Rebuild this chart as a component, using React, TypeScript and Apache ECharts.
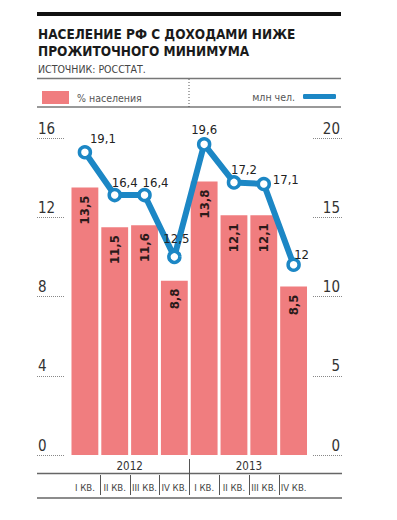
import React, { useEffect, useRef } from "react";
import * as echarts from "echarts";

const quarters = ["I КВ.", "II КВ.", "III КВ.", "IV КВ.", "I КВ.", "II КВ.", "III КВ.", "IV КВ."];
const years = ["2012", "2013"];
const pctPopulation = [13.5, 11.5, 11.6, 8.8, 13.8, 12.1, 12.1, 8.5];
const mlnPeople = [19.1, 16.4, 16.4, 12.5, 19.6, 17.2, 17.1, 12];
const leftTicks = { min: 0, max: 16, interval: 4 };
const rightTicks = { min: 0, max: 20, interval: 5 };

// label nudges for the line values (layout only)
const lineLabelOffsets: [number, number][] = [
  [18, 5], [10, 6], [11, 6], [2, 0], [0, 4], [10, 6], [22, 14], [8, 8],
];

const FONT = "'Liberation Sans Narrow', 'DejaVu Sans Condensed', 'Roboto Condensed', sans-serif";
const RED = "#f07d7f";
const BLUE = "#1c87c5";
const comma = (v: number) => String(v).replace(".", ",");

export default function App() {
  const ref = useRef<HTMLDivElement>(null);
  useEffect(() => {
    if (!ref.current) return;
    const chart = echarts.init(ref.current, null, { renderer: "svg" });
    const option: any = {
      animation: false,
      backgroundColor: "#fff",
      textStyle: { fontFamily: FONT },
      title: {
        text: "НАСЕЛЕНИЕ РФ С ДОХОДАМИ НИЖЕ\nПРОЖИТОЧНОГО МИНИМУМА",
        subtext: "ИСТОЧНИК: РОССТАТ.",
        left: 33,
        top: 20,
        itemGap: 4,
        textStyle: { fontFamily: FONT, fontSize: 13.5, fontWeight: "bold", color: "#1a1a1a", lineHeight: 17 },
        subtextStyle: { fontFamily: FONT, fontSize: 10.5, color: "#444" },
      },
      legend: [
        {
          data: ["% населения"],
          left: 37,
          top: 86,
          itemWidth: 27,
          itemHeight: 13,
          itemGap: 5,
          icon: "rect",
          textStyle: { fontFamily: FONT, fontSize: 10.5, color: "#555", padding: [0, 0, 0, 3] },
        },
        {
          data: ["млн чел."],
          right: 56,
          top: 86,
          align: "right",
          icon: "roundRect",
          itemWidth: 33,
          itemHeight: 5,
          itemStyle: { color: BLUE, borderWidth: 0 },
          textStyle: { fontFamily: FONT, fontSize: 10.5, color: "#555", padding: [0, 3, 0, 0] },
        },
      ],
      grid: { left: 70, right: 88.5, top: 138, bottom: 65 },
      xAxis: [
        {
          type: "category",
          data: quarters,
          position: "bottom",
          axisLine: { show: false },
          axisTick: { show: false },
          axisLabel: { margin: 27, fontSize: 9.5, color: "#444", fontFamily: FONT, interval: 0 },
        },
        {
          type: "category",
          data: years,
          position: "bottom",
          axisLine: { show: false },
          axisTick: { show: false },
          axisLabel: { margin: 5, fontSize: 11.5, color: "#333", fontFamily: FONT },
        },
      ],
      yAxis: [
        {
          type: "value",
          ...leftTicks,
          position: "left",
          offset: 6,
          splitLine: { show: false },
          axisLine: { show: false },
          axisTick: { show: true, length: 27, lineStyle: { color: "#888", type: "dotted", width: 1 } },
          axisLabel: {
            margin: 26,
            align: "left",
            verticalAlign: "bottom",
            padding: [0, 0, 2, 0],
            fontSize: 15,
            color: "#333",
            fontFamily: FONT,
          },
        },
        {
          type: "value",
          ...rightTicks,
          position: "right",
          offset: 4.5,
          splitLine: { show: false },
          axisLine: { show: false },
          axisTick: { show: true, length: 29, lineStyle: { color: "#888", type: "dotted", width: 1 } },
          axisLabel: {
            margin: 27,
            align: "right",
            verticalAlign: "bottom",
            padding: [0, 0, 2, 0],
            fontSize: 15,
            color: "#333",
            fontFamily: FONT,
          },
        },
      ],
      series: [
        {
          name: "% населения",
          type: "bar",
          xAxisIndex: 0,
          yAxisIndex: 0,
          data: pctPopulation,
          barCategoryGap: "10%",
          itemStyle: { color: RED },
          label: {
            show: true,
            position: "insideTop",
            distance: 8,
            rotate: 90,
            align: "right",
            verticalAlign: "middle",
            fontSize: 13,
            fontWeight: "bold",
            color: "#2a1a1a",
            fontFamily: FONT,
            formatter: (p: any) => comma(p.value),
          },
        },
        {
          name: "млн чел.",
          type: "line",
          xAxisIndex: 0,
          yAxisIndex: 1,
          data: mlnPeople.map((v, i) => ({ value: v, label: { offset: lineLabelOffsets[i] } })),
          symbol: "circle",
          symbolSize: 11,
          lineStyle: { color: BLUE, width: 6 },
          itemStyle: { color: "#fff", borderColor: BLUE, borderWidth: 3.5 },
          label: {
            show: true,
            position: "top",
            fontSize: 13,
            color: "#222",
            fontFamily: FONT,
            formatter: (p: any) => comma(p.value),
          },
          z: 5,
        },
      ],
    };
    chart.setOption(option);

    const px = (i: number) => chart.convertToPixel({ xAxisIndex: 0 }, i) as number;
    const graphic: any[] = [
      { type: "rect", shape: { x: 37, y: 12, width: 304, height: 4 }, style: { fill: "#111" } },
      { type: "line", shape: { x1: 37, y1: 78.5, x2: 341, y2: 78.5 }, style: { stroke: "#777", lineWidth: 1.5 } },
      { type: "line", shape: { x1: 37, y1: 107, x2: 341, y2: 107 }, style: { stroke: "#777", lineWidth: 1.5 } },
      { type: "line", shape: { x1: 189, y1: 79, x2: 189, y2: 107 }, style: { stroke: "#555", lineWidth: 1, lineDash: [1, 2] } },
      { type: "line", shape: { x1: 37, y1: 473.5, x2: 342, y2: 473.5 }, style: { stroke: "#666", lineWidth: 1.5 } },
      { type: "line", shape: { x1: 37, y1: 498, x2: 342, y2: 498 }, style: { stroke: "#666", lineWidth: 1.5 } },
    ];
    for (let i = 1; i < quarters.length; i++) {
      const x = Math.round((px(i - 1) + px(i)) / 2) + 0.5;
      const isYear = i === 4;
      graphic.push({
        type: "line",
        shape: { x1: x, y1: isYear ? 459 : 475, x2: x, y2: 495 },
        style: { stroke: "#555", lineWidth: 1 },
      });
    }
    chart.setOption({ graphic });
    return () => chart.dispose();
  }, []);
  return (
    <div
      ref={ref}
      style={{ position: "fixed", left: 0, top: 0, width: 397, height: 520, background: "#fff" }}
    />
  );
}
